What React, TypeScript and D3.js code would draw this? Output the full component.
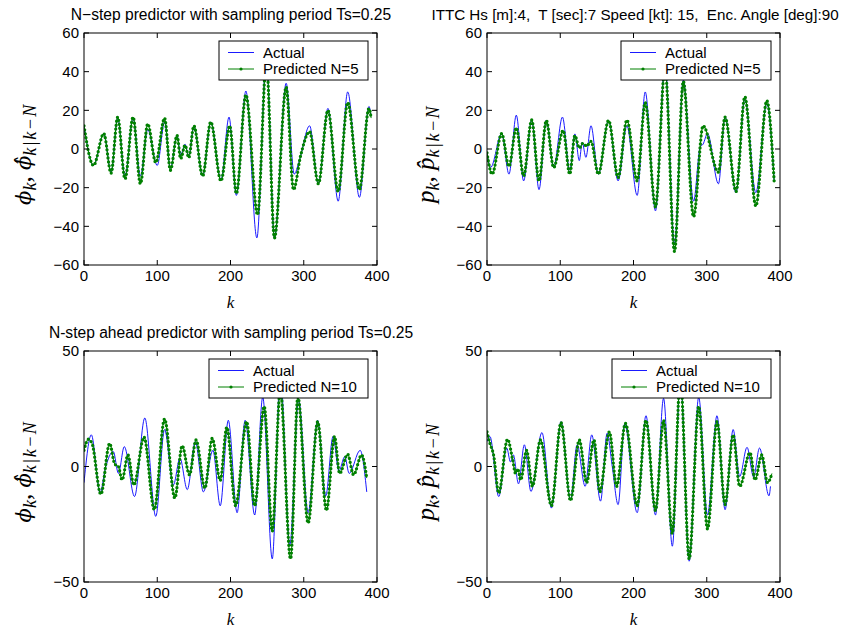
import React from "react";
import * as d3 from "d3";

type Pt = [number, number];

// x axis (sample index k)
const kTicks = [0, 100, 200, 300, 400];
const ticksN5 = [-60, -40, -20, 0, 20, 40, 60];
const ticksN10 = [-50, 0, 50];

// roll, N=5 (at peaks / troughs)
const phiActualN5: Pt[] = [
  [0, 12], [13, -8.5], [27, 8], [37, -12], [46, 16], [56, -14], [67, 16], [77, -14],
  [87, 10], [100, -8.5], [110, 14], [118, -10], [127, 7], [132, -3], [138, 2.5], [143, -4],
  [150, 11.6], [162, -14], [173, 14], [187, -16], [198, 16.5], [208, -24], [221, 30],
  [236, -46], [249, 48], [260, -46], [276, 34], [287, -13], [294, -6], [308, 12],
  [320, -18], [333, 21], [347, -27], [360, 29.5], [376, -25], [389, 22], [392, 17],
];
const phiPredN5: Pt[] = [
  [0, 12], [13, -8.5], [27, 8], [37, -12.5], [46, 16.5], [56, -15.5], [67, 16.5], [77, -18],
  [87, 13], [98, -7], [110, 16], [118, -11], [127, 7], [132, -5], [138, 2], [143, -4.5],
  [150, 12], [162, -14], [173, 14], [187, -16.5], [199, 12], [208, -23], [221, 28],
  [237, -34], [249, 45], [260, -46], [276, 32], [286, -21], [296, -3], [308, 9],
  [320, -18], [333, 20], [347, -22], [360, 24], [376, -21], [389, 21], [392, 16],
];

// roll rate, N=5
const pActualN5: Pt[] = [
  [0, -2], [5, -9.5], [20, 8], [30, -13], [40, 17.5], [50, -16.5], [61, 15], [71, -21],
  [81, 15], [91, -9.6], [103, 16.5], [113, -11], [120, 7.8], [126, -6], [130, 3.5],
  [135, -4.3], [142, 12], [152, -13], [166, 14.8], [179, -16.5], [191, 12], [205, -24],
  [216, 29.5], [230, -32], [243, 45], [256, -49], [268, 35.6], [282, -27], [291, 1],
  [295, 2.5], [301, 8], [316, -18], [325, 16.5], [340, -22.6], [352, 26], [367, -22.6],
  [382, 23.5], [392, -16],
];
const pPredN5: Pt[] = [
  [0, -2], [7, -13], [20, 8], [30, -9], [40, 11], [50, -14], [61, 15], [71, -16.5],
  [81, 14.8], [91, -9.6], [104, 9.6], [113, -13], [120, 7], [126, 0.5], [131, 3],
  [136, 1.5], [142, 4], [152, -13], [166, 14.8], [179, -14.8], [191, 15], [205, -16.5],
  [216, 24], [230, -30], [243, 42], [256, -53], [268, 35], [282, -35], [295, 12],
  [316, -12], [325, 16.5], [340, -22], [352, 27], [367, -29.5], [382, 25], [392, -16.5],
];

// roll, N=10
const phiActualN10: Pt[] = [
  [0, -7], [10, 13.7], [22, -11.5], [29, -1], [40, 6.5], [47, -3], [55, 8.6], [69, -13],
  [83, 21], [98, -21.6], [110, 16], [122, -8], [131, 3.6], [141, -10], [152, 10.8],
  [163, -11], [176, 7], [186, -17], [197, 20], [209, -20], [220, 20], [233, -21],
  [244, 30], [257, -40], [268, 40], [281, -34], [293, 29], [306, -20], [319, 20],
  [330, -12.7], [340, 13], [348, -2], [356, 4.3], [362, -3], [377, 7], [386, -11],
];
const phiPredN10: Pt[] = [
  [0, 7], [6, 11.8], [11, 10], [23, -12], [35, 10], [42, 1], [47, 0], [52, -5.8],
  [60, 5], [68, -8], [82, 12.7], [96, -18.7], [110, 20.6], [124, -13.7], [134, 9],
  [144, -3.6], [153, 11.5], [165, -9.4], [175, 12.2], [186, -6], [195, 17], [207, -17],
  [222, 19.4], [233, -17], [246, 26], [257, -28], [268, 33], [282, -40], [292, 30],
  [306, -24.5], [319, 19.4], [331, -19], [342, 13], [349, -3], [360, 5.3], [368, -3.6],
  [379, 5], [386, -5],
];

// roll rate, N=10
const pActualN10: Pt[] = [
  [0, 10.8], [4, 13], [16, -13], [27, 8], [32, 2], [36, 5], [43, -7.5], [51, 9.4],
  [60, -10.8], [75, 14.7], [88, -18], [101, 19.4], [114, -14.4], [123, 9.4], [134, -8.6],
  [143, 13.7], [155, -15], [164, 14.4], [171, 0], [179, -16.5], [188, 18.5], [205, -20],
  [217, 22], [230, -21], [241, 29.5], [253, -34.5], [264, 38], [276, -41], [289, 30],
  [301, -21], [314, 22], [325, -18.7], [336, 16], [345, -4.3], [355, 8.3], [364, -4.6],
  [372, 8], [385, -12.7], [387, -8.6],
];
const pPredN10: Pt[] = [
  [0, 15], [4, 10], [9, 5], [16, -11.5], [28, 11.8], [35, 3], [39, -3], [42, -1],
  [46, -5.8], [54, 7], [62, -8.6], [73, 11.5], [88, -17], [101, 19], [114, -14.7],
  [126, 11.5], [136, -7], [146, 11.5], [154, -11], [167, 15], [177, -8.6], [189, 18.7],
  [205, -17], [217, 20], [230, -19], [241, 20], [253, -29], [264, 38], [276, -40],
  [289, 26], [301, -27], [314, 19.4], [325, -16.5], [336, 13.7], [345, -8.6], [359, 6],
  [366, -5.8], [375, 5], [383, -7], [389, -3],
];

const W = 293;
const SANS = "'Liberation Sans', Arial, Helvetica, sans-serif";
const SERIF = "'Liberation Serif', 'DejaVu Serif', 'Times New Roman', serif";

const panels = [
  { id: "a", x: 84, y: 33, h: 232, ticks: ticksN5, actual: phiActualN5, pred: phiPredN5, sym: "\u03d5", legend: "Predicted N=5", legendW: 149 },
  { id: "b", x: 487, y: 33, h: 232, ticks: ticksN5, actual: pActualN5, pred: pPredN5, sym: "p", legend: "Predicted N=5", legendW: 150 },
  { id: "c", x: 84, y: 351, h: 231, ticks: ticksN10, actual: phiActualN10, pred: phiPredN10, sym: "\u03d5", legend: "Predicted N=10", legendW: 159 },
  { id: "d", x: 487, y: 351, h: 231, ticks: ticksN10, actual: pActualN10, pred: pPredN10, sym: "p", legend: "Predicted N=10", legendW: 159 },
];

const Panel = ({ p }: { p: (typeof panels)[number] }) => {
  const x = d3.scaleLinear().domain([0, 400]).range([p.x, p.x + W]);
  const y = d3
    .scaleLinear()
    .domain([p.ticks[0], p.ticks[p.ticks.length - 1]])
    .range([p.y + p.h, p.y]);
  const line = d3
    .line<Pt>()
    .x((d) => x(d[0]))
    .y((d) => y(d[1]))
    .curve(d3.curveMonotoneX);

  const lr = p.x + W - 9;
  const ll = lr - p.legendW;
  const lt = p.y + 8;
  const row1 = lt + 11.5;
  const row2 = lt + 28;
  // greek symbol: keep base + combining hat in the same font
  const symFont = p.sym === "p" ? SERIF : "'DejaVu Serif', serif";
  const symSize = p.sym === "p" ? 25 : 21;

  return (
    <g>
      <defs>
        <clipPath id={"clip-" + p.id}>
          <rect x={p.x} y={p.y} width={W} height={p.h} />
        </clipPath>
      </defs>
      <rect x={p.x} y={p.y} width={W} height={p.h} fill="#fff" />
      <g clipPath={`url(#clip-${p.id})`}>
        <path d={line(p.actual) || ""} fill="none" stroke="#0000ff" strokeWidth={0.9} />
        <path d={line(p.pred) || ""} fill="none" stroke="#008000" strokeWidth={1} />
        {/* '.' markers of the predicted series */}
        <path
          d={line(p.pred) || ""}
          fill="none"
          stroke="#008000"
          strokeWidth={3.3}
          strokeLinecap="round"
          strokeDasharray="0 4"
        />
      </g>
      {/* box + inward ticks */}
      <rect x={p.x} y={p.y} width={W} height={p.h} fill="none" stroke="#000" strokeWidth={1} />
      {kTicks.map((t) => (
        <g key={"x" + t}>
          <line x1={x(t)} x2={x(t)} y1={p.y + p.h} y2={p.y + p.h - 5} stroke="#000" />
          <line x1={x(t)} x2={x(t)} y1={p.y} y2={p.y + 5} stroke="#000" />
          <text x={x(t)} y={p.y + p.h + 16} textAnchor="middle" fontFamily={SANS} fontSize={15}>
            {t}
          </text>
        </g>
      ))}
      {p.ticks.map((t) => (
        <g key={"y" + t}>
          <line x1={p.x} x2={p.x + 5} y1={y(t)} y2={y(t)} stroke="#000" />
          <line x1={p.x + W} x2={p.x + W - 5} y1={y(t)} y2={y(t)} stroke="#000" />
          <text x={p.x - 5} y={y(t)} dy="0.35em" textAnchor="end" fontFamily={SANS} fontSize={15}>
            {t < 0 ? "\u2212" + Math.abs(t) : String(t)}
          </text>
        </g>
      ))}
      {/* legend */}
      <rect x={ll} y={lt} width={p.legendW} height={39} fill="#fff" stroke="#000" strokeWidth={1} />
      <line x1={ll + 9} x2={ll + 35} y1={row1} y2={row1} stroke="#0000ff" strokeWidth={0.9} />
      <text x={ll + 44} y={row1 + 5} fontFamily={SANS} fontSize={15}>Actual</text>
      <line x1={ll + 9} x2={ll + 35} y1={row2} y2={row2} stroke="#008000" strokeWidth={1} />
      <circle cx={ll + 22} cy={row2} r={1.6} fill="#008000" />
      <text x={ll + 44} y={row2 + 5} fontFamily={SANS} fontSize={15}>{p.legend}</text>
      {/* axis labels */}
      <text x={p.x + W / 2} y={p.y + p.h + 43} textAnchor="middle" fontFamily={SERIF} fontStyle="italic" fontSize={17}>
        k
      </text>
      <text
        transform={`translate(${p.x - 53},${p.y + p.h / 2 + 5}) rotate(-90)`}
        textAnchor="middle"
        fontFamily={SERIF}
        fontStyle="italic"
        fontSize={25}
      >
        <tspan fontFamily={symFont} fontSize={symSize}>{p.sym}</tspan>
        <tspan fontSize={18} dy={5}>k</tspan>
        <tspan dy={-5} fontStyle="normal">{", "}</tspan>
        <tspan fontFamily={symFont} fontSize={symSize}>{p.sym + "\u0302"}</tspan>
        <tspan fontSize={18} dy={5} letterSpacing={1.5}>{"k|k\u2212N"}</tspan>
      </text>
    </g>
  );
};

const App = () => {
  return (
    <svg width={849} height={633} style={{ position: "absolute", left: 0, top: 0, background: "#fff" }}>
      <rect width={849} height={633} fill="#fff" />
      {panels.map((p) => (
        <Panel key={p.id} p={p} />
      ))}
      <text x={231} y={20} textAnchor="middle" fontFamily={SANS} fontSize={15.6}>
        N{"\u2212"}step predictor with sampling period Ts=0.25
      </text>
      <text x={635} y={20} textAnchor="middle" fontFamily={SANS} fontSize={15.2} style={{ whiteSpace: "pre" }}>
        {"ITTC Hs [m]:4,  T [sec]:7 Speed [kt]: 15,  Enc. Angle [deg]:90"}
      </text>
      <text x={231} y={338} textAnchor="middle" fontFamily={SANS} fontSize={15.6}>
        N-step ahead predictor with sampling period Ts=0.25
      </text>
    </svg>
  );
};

export default App;
